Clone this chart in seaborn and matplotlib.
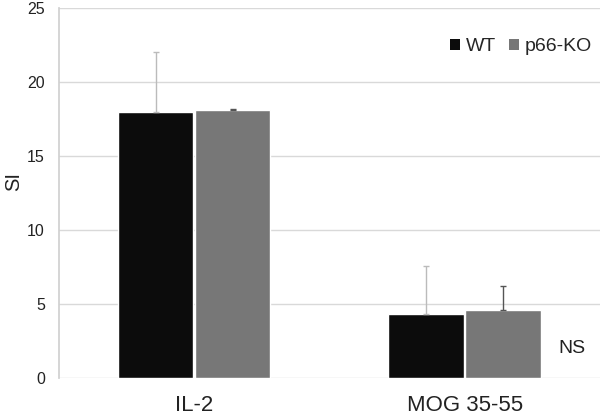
import numpy as np
import pandas as pd
import matplotlib.pyplot as plt
import seaborn as sns

# data
categories = ['IL-2', 'MOG 35-55']
groups = ['WT', 'p66-KO']
wt_values = [18.0, 4.3]
ko_values = [18.1, 4.6]
wt_err = [4.0, 3.3]
ko_err = [0.08, 1.65]

df = pd.DataFrame({
    'antigen': categories * 2,
    'group': [groups[0]] * 2 + [groups[1]] * 2,
    'SI': wt_values + ko_values,
})

sns.set_theme(style='white')
plt.rcParams['font.family'] = ['Liberation Sans', 'DejaVu Sans']

fig, ax = plt.subplots(figsize=(6, 4.16), dpi=100)
fig.subplots_adjust(left=0.098, right=1.0, top=0.981, bottom=0.091)

palette = {'WT': '#0c0c0c', 'p66-KO': '#777777'}
sns.barplot(data=df, x='antigen', y='SI', hue='group', palette=palette,
            width=0.57, gap=0.02, edgecolor='white', linewidth=1.0,
            saturation=1, ax=ax, zorder=3)

# upward-only error bars
err_cols = {'WT': '#bbbbbb', 'p66-KO': '#555555'}
errs = {'WT': wt_err, 'p66-KO': ko_err}
for cont, g in zip(ax.containers, groups):
    for bar, e in zip(cont, errs[g]):
        xc = bar.get_x() + bar.get_width() / 2
        h = bar.get_height()
        ax.errorbar(xc, h, yerr=[[0], [e]], fmt='none', ecolor=err_cols[g],
                    elinewidth=1.0, capsize=2.5, capthick=1.0, zorder=4)

ax.set_ylim(0, 25)
ax.set_yticks([0, 5, 10, 15, 20, 25])
ax.set_xlim(-0.5, 1.5)
ax.yaxis.grid(True, color='#d9d9d9', linewidth=1.0)
ax.set_axisbelow(True)
for s in ['top', 'right', 'bottom']:
    ax.spines[s].set_visible(False)
ax.spines['left'].set_color('#d0d0d0')
ax.tick_params(axis='both', colors='#222222', length=0)
ax.tick_params(axis='y', labelsize=11.5, pad=10)
ax.tick_params(axis='x', labelsize=16, pad=12)
ax.set_xlabel('')
ax.set_ylabel('SI', fontsize=14.5, color='#222222')
ax.yaxis.set_label_coords(-0.066, 0.53)

ax.text(1.396, 2.0, 'NS', fontsize=14, ha='center', va='center', color='#222222')

leg = ax.legend(loc='upper right', bbox_to_anchor=(1.018, 0.965), ncol=2, frameon=False,
                fontsize=14, handlelength=0.5, handleheight=0.5,
                handletextpad=0.3, columnspacing=0.7)
for h in leg.legend_handles:
    h.set_edgecolor('none')

fig.savefig('out.png', dpi=100)
